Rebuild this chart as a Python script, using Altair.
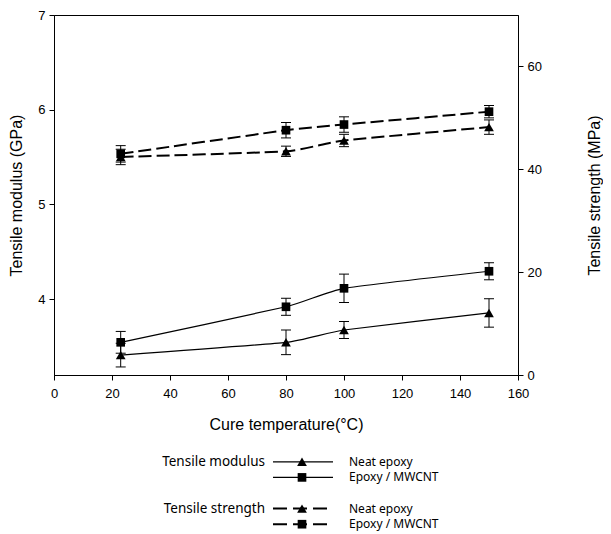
import altair as alt
import pandas as pd

# ---------------- data ----------------
temps = [23, 80, 100, 150]
series_names = ["Neat epoxy", "Epoxy / MWCNT"]

modulus_neat = [3.41, 3.545, 3.675, 3.855]
modulus_neat_err = [0.125, 0.13, 0.09, 0.15]
modulus_cnt = [3.545, 3.92, 4.115, 4.295]
modulus_cnt_err = [0.115, 0.09, 0.15, 0.09]

strength_neat = [42.4, 43.5, 45.6, 48.2]
strength_neat_err = [1.5, 1.0, 1.2, 1.4]
strength_cnt = [43.0, 47.6, 48.7, 51.2]
strength_cnt_err = [1.6, 1.5, 1.5, 1.2]

x_ticks = [0, 20, 40, 60, 80, 100, 120, 140, 160]
modulus_ticks = [4, 5, 6, 7]
strength_ticks = [0, 20, 40, 60]

legend_groups = ["Tensile modulus", "", "Tensile strength", ""]
legend_series = ["Neat epoxy", "Epoxy / MWCNT", "Neat epoxy", "Epoxy / MWCNT"]
legend_kind = ["modulus", "modulus", "strength", "strength"]
legend_rows = [0, 1, 3, 4]


def build(vals_a, errs_a, vals_b, errs_b):
    rows = []
    for name, vals, errs in [(series_names[0], vals_a, errs_a), (series_names[1], vals_b, errs_b)]:
        for t, v, e in zip(temps, vals, errs):
            rows.append({"temp": t, "series": name, "value": v, "lo": v - e, "hi": v + e})
    return pd.DataFrame(rows)


df_mod = build(modulus_neat, modulus_neat_err, modulus_cnt, modulus_cnt_err)
df_str = build(strength_neat, strength_neat_err, strength_cnt, strength_cnt_err)
df_leg = pd.DataFrame({"group": legend_groups, "series": legend_series,
                       "kind": legend_kind, "row": legend_rows})

AX_FONT = "Liberation Sans"
LEG_FONT = "Noto Sans"

shape_scale = alt.Scale(domain=series_names, range=["triangle-up", "square"])
size_scale = alt.Scale(domain=series_names, range=[95, 75])

x_enc = alt.X("temp:Q", scale=alt.Scale(domain=[0, 160], nice=False),
              axis=alt.Axis(values=x_ticks, title="Cure temperature(°C)", labelFlush=False,
                            labelPadding=7, titlePadding=16))

mod_axis = alt.Axis(values=modulus_ticks, title="Tensile modulus (GPa)", orient="left",
                    labelFlush=False, labelPadding=4, titlePadding=13)
str_axis = alt.Axis(values=strength_ticks, title="Tensile strength (MPa)", orient="right",
                    labelFlush=False, labelPadding=4, titlePadding=45,
                    titleAngle=270, titleBaseline="top")
mod_scale = alt.Scale(domain=[3.2, 7], nice=False, zero=False)
str_scale = alt.Scale(domain=[0, 70], nice=False, zero=False)


def panel(df, scale, axis, line_props):
    base = alt.Chart(df).encode(x=x_enc)
    line = base.mark_line(color="black", interpolate="cardinal", tension=0.55, **line_props).encode(
        y=alt.Y("value:Q", scale=scale, axis=axis), detail="series:N")
    bars = base.mark_rule(color="black", strokeWidth=1, opacity=1).encode(
        y=alt.Y("lo:Q", scale=scale, axis=axis), y2="hi:Q")
    cap_lo = base.mark_tick(color="black", orient="horizontal", size=10, thickness=1, opacity=1).encode(
        y=alt.Y("lo:Q", scale=scale, axis=axis))
    cap_hi = base.mark_tick(color="black", orient="horizontal", size=10, thickness=1, opacity=1).encode(
        y=alt.Y("hi:Q", scale=scale, axis=axis))
    pts = base.mark_point(filled=True, color="black", opacity=1).encode(
        y=alt.Y("value:Q", scale=scale, axis=axis),
        shape=alt.Shape("series:N", scale=shape_scale, legend=None),
        size=alt.Size("series:N", scale=size_scale, legend=None))
    return alt.layer(line, bars, cap_lo, cap_hi, pts)


mod_layer = panel(df_mod, mod_scale, mod_axis, {"strokeWidth": 1.2})
str_layer = panel(df_str, str_scale, str_axis, {"strokeWidth": 2, "strokeDash": [13, 5]})

main = alt.layer(mod_layer, str_layer).resolve_scale(y="independent").properties(
    width=464, height=360, view=alt.ViewBackground(stroke="black", strokeWidth=1))

# ---------------- legend panel ----------------
leg_base = alt.Chart(df_leg).encode(
    y=alt.Y("row:Q", scale=alt.Scale(domain=[-0.5, 4.5], reverse=True, nice=False, zero=False), axis=None))
leg_group = leg_base.mark_text(align="right", baseline="middle", font=LEG_FONT, fontSize=13.5,
                               color="black").encode(x=alt.value(211), text="group:N")
leg_label = leg_base.mark_text(align="left", baseline="middle", font=LEG_FONT, fontSize=12,
                               color="black").encode(x=alt.value(295), text="series:N")
leg_solid = leg_base.transform_filter(alt.datum.kind == "modulus").mark_rule(
    color="black", strokeWidth=1.2).encode(x=alt.value(219), x2=alt.value(279))
leg_dash = leg_base.transform_filter(alt.datum.kind == "strength").mark_rule(
    color="black", strokeWidth=2, strokeDash=[14, 6]).encode(x=alt.value(219), x2=alt.value(279))
leg_pts = leg_base.mark_point(filled=True, color="black", opacity=1).encode(
    x=alt.value(248),
    shape=alt.Shape("series:N", scale=shape_scale, legend=None),
    size=alt.Size("series:N", scale=size_scale, legend=None))
legend = alt.layer(leg_solid, leg_dash, leg_pts, leg_group, leg_label).properties(
    width=464, height=78, view=alt.ViewBackground(strokeWidth=0))

chart = alt.vconcat(main, legend, spacing=21).configure(padding=0).configure_view(
    strokeWidth=0).configure_axis(
    domainColor="black", tickColor="black", labelColor="black", titleColor="black",
    grid=False, tickSize=5, domainWidth=1, tickWidth=1,
    labelFont=AX_FONT, titleFont=AX_FONT, labelFontSize=13, titleFontSize=16,
    titleFontWeight="normal")

chart.save("out.html", embed_options={"renderer": "svg", "actions": False})
